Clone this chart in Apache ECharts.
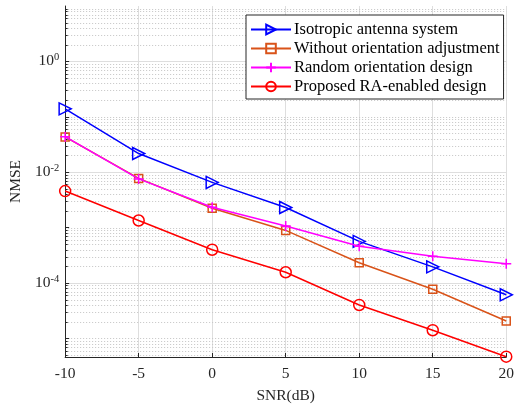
<!DOCTYPE html>
<html>
<head>
    <meta charset="utf-8">
    <title>NMSE vs SNR</title>
    <script src="https://cdn.jsdelivr.net/npm/echarts@6.0.0/dist/echarts.min.js"></script>
    <style>
        html, body { margin: 0; padding: 0; background: #fff; }
        #main { width: 517px; height: 409px; }
    </style>
</head>
<body>
    <div id="main"></div>
    <script>
        // data
        const snr = [-10, -5, 0, 5, 10, 15, 20];
        const isotropic = [0.139, 0.0217, 0.00653, 0.00230, 5.62e-4, 1.95e-4, 6.1e-5];
        const withoutAdj = [0.0432, 0.00771, 0.00223, 8.87e-4, 2.32e-4, 7.7e-5, 2.06e-5];
        const randomOri = [0.0438, 0.00755, 0.00232, 1.07e-3, 4.58e-4, 3.03e-4, 2.23e-4];
        const proposed = [0.00456, 0.00134, 3.98e-4, 1.56e-4, 4.0e-5, 1.40e-5, 4.66e-6];
        const names = ['Isotropic antenna system', 'Without orientation adjustment',
                       'Random orientation design', 'Proposed RA-enabled design'];
        const yLabelExps = [0, -2, -4];

        const yMin = 4.6e-6, yMax = 10;
        const font = 'Liberation Serif';
        const textColor = '#262626';

        // log grid: solid at labelled decades, dotted at the rest (m * 10^k)
        const gridRows = [];
        for (let k = -6; k <= 1; k++) {
            for (let m = 1; m <= 9; m++) {
                const v = m * Math.pow(10, k);
                if (v <= yMin || v >= yMax) continue;
                const major = (m === 1 && yLabelExps.indexOf(k) >= 0) ? 1 : 0;
                gridRows.push([snr[0], v, major, m === 1 ? 1 : 0]);
            }
        }

        const pair = arr => snr.map((x, i) => [x, arr[i]]);

        const chart = echarts.init(document.getElementById('main'));

        const option = {
            animation: false,
            backgroundColor: '#fff',
            grid: { left: 63, right: 8, top: 6, bottom: 50 },
            legend: {
                orient: 'vertical',
                left: 246,
                top: 15,
                itemWidth: 40,
                itemHeight: 12,
                itemGap: 2,
                padding: [6, 4, 4, 4],
                backgroundColor: '#fff',
                borderColor: '#262626',
                borderWidth: 1,
                textStyle: { fontFamily: font, fontSize: 16.5, lineHeight: 16, color: '#000', padding: [0, 0, 0, -2] },
                data: names
            },
            xAxis: {
                type: 'value',
                min: -10, max: 20, interval: 5,
                name: 'SNR(dB)',
                nameLocation: 'middle',
                nameGap: 31,
                nameTextStyle: { fontFamily: font, fontSize: 15.5, color: textColor },
                axisLine: { lineStyle: { color: textColor } },
                axisTick: { inside: true, length: 4, lineStyle: { color: textColor } },
                axisLabel: { fontFamily: font, fontSize: 15.5, color: textColor, margin: 9 },
                splitLine: { show: true, lineStyle: { color: '#dedede' } }
            },
            yAxis: {
                type: 'log',
                logBase: 10,
                min: yMin, max: yMax,
                name: 'NMSE',
                nameLocation: 'middle',
                nameGap: 39,
                nameTextStyle: { fontFamily: font, fontSize: 15.5, color: textColor },
                axisLine: { show: true, onZero: false, lineStyle: { color: textColor } },
                axisTick: { inside: true, length: 4, lineStyle: { color: textColor } },
                splitLine: { show: false },
                axisLabel: {
                    margin: 6,
                    showMinLabel: false,
                    showMaxLabel: false,
                    formatter: function (v) {
                        const e = Math.log10(v);
                        const r = Math.round(e);
                        if (Math.abs(e - r) > 1e-6 || yLabelExps.indexOf(r) < 0) return '';
                        return '{b|10}{s|' + (r === 0 ? '0' : '-' + Math.abs(r)) + '}';
                    },
                    rich: {
                        b: { fontFamily: font, fontSize: 15.5, color: textColor },
                        s: { fontFamily: font, fontSize: 10.5, color: textColor, verticalAlign: 'top', padding: [0, 0, 8, 0] }
                    }
                }
            },
            series: [
                {
                    // background grid rows plus small minor ticks on the y axis
                    type: 'custom',
                    silent: true,
                    z: 0,
                    data: gridRows,
                    renderItem: function (params, api) {
                        const pt = api.coord([api.value(0), api.value(1)]);
                        const y = Math.round(pt[1]) + 0.5;
                        const cs = params.coordSys;
                        const major = api.value(2) === 1;
                        const children = [{
                            type: 'line',
                            shape: { x1: cs.x, y1: y, x2: cs.x + cs.width, y2: y },
                            style: major
                                ? { stroke: '#dedede', lineWidth: 1 }
                                : { stroke: '#c4c4c4', lineWidth: 1, lineDash: [1, 2] }
                        }];
                        if (api.value(3) !== 1) {
                            children.push({
                                type: 'line',
                                shape: { x1: cs.x, y1: y, x2: cs.x + 2.5, y2: y },
                                style: { stroke: textColor, lineWidth: 1 }
                            });
                        }
                        return { type: 'group', children: children };
                    }
                },
                {
                    name: names[0],
                    type: 'line',
                    data: pair(isotropic),
                    symbol: 'triangle',
                    symbolRotate: -90,
                    symbolSize: 12,
                    itemStyle: { color: 'rgba(0,0,0,0)', borderColor: '#0000ff', borderWidth: 1.5 },
                    lineStyle: { color: '#0000ff', width: 1.5 },
                    z: 3
                },
                {
                    name: names[1],
                    type: 'line',
                    data: pair(withoutAdj),
                    symbol: 'rect',
                    symbolSize: 8,
                    itemStyle: { color: 'rgba(0,0,0,0)', borderColor: '#d95319', borderWidth: 1.5 },
                    lineStyle: { color: '#d95319', width: 1.5 },
                    z: 4
                },
                {
                    name: names[2],
                    type: 'line',
                    data: pair(randomOri),
                    symbol: 'path://M5,0L5,10M0,5L10,5',
                    symbolSize: 10,
                    itemStyle: { color: 'rgba(0,0,0,0)', borderColor: '#ff00ff', borderWidth: 1.5 },
                    lineStyle: { color: '#ff00ff', width: 1.5 },
                    z: 5
                },
                {
                    name: names[3],
                    type: 'line',
                    data: pair(proposed),
                    symbol: 'circle',
                    symbolSize: 11,
                    itemStyle: { color: 'rgba(0,0,0,0)', borderColor: '#ff0000', borderWidth: 1.5 },
                    lineStyle: { color: '#ff0000', width: 1.5 },
                    z: 6
                }
            ]
        };

        chart.setOption(option);
        window.addEventListener('resize', function () {
            chart.resize();
        });
    </script>
</body>
</html>
